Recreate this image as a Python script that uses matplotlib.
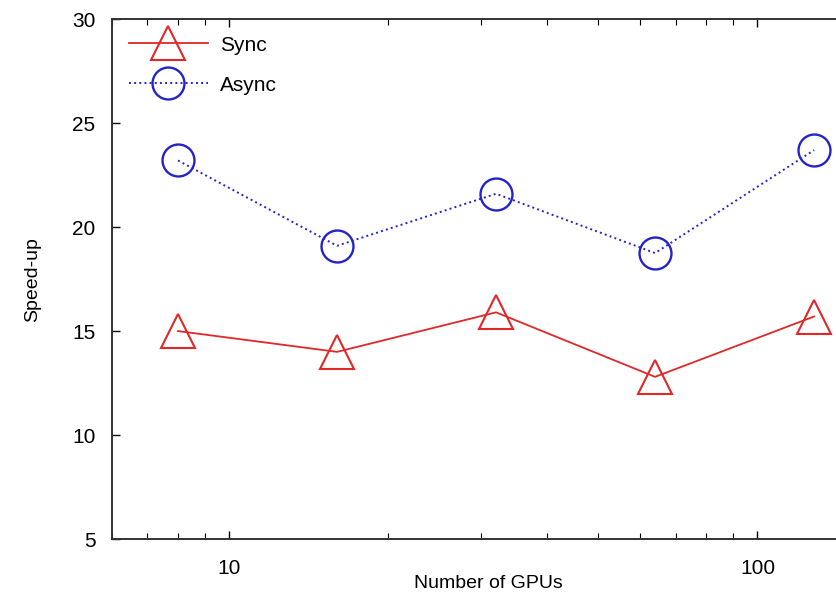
import matplotlib.pyplot as plt
import matplotlib.ticker as ticker

plt.rcParams['font.family'] = ['Liberation Sans', 'DejaVu Sans']

gpus = [8, 16, 32, 64, 128]
sync = [15.0, 14.0, 15.9, 12.8, 15.7]
async_ = [23.2, 19.1, 21.6, 18.75, 23.7]

fig = plt.figure(figsize=(8.36, 6.14), dpi=100)
# axes run past the right edge, as in the cropped original
ax = fig.add_axes([0.134, 0.122, 0.901, 0.847])

ax.plot(gpus, sync, color='#e02828', lw=1.3, marker='^', markersize=24,
        markerfacecolor='none', markeredgewidth=1.5, label='Sync')
ax.plot(gpus, async_, color='#2424c8', lw=1.4, ls=':', marker='o', markersize=23,
        markerfacecolor='none', markeredgewidth=1.7, label='Async')

ax.set_xscale('log')
ax.set_xlim(6, 160)
ax.set_ylim(5, 30)
ax.set_yticks([5, 10, 15, 20, 25, 30])
ax.xaxis.set_major_formatter(ticker.FuncFormatter(lambda v, p: '%d' % v))
ax.xaxis.set_minor_formatter(ticker.NullFormatter())

ax.tick_params(which='both', direction='in', top=True, right=True, labelsize=15)
ax.tick_params(which='major', length=6, width=1)
ax.tick_params(which='minor', length=4, width=0.8)
ax.tick_params(axis='x', pad=14)
ax.tick_params(axis='y', pad=12)
for s in ax.spines.values():
    s.set_linewidth(1.4)
    s.set_color('#333333')

ax.set_xlabel('Number of GPUs', fontsize=14, labelpad=-2)
ax.set_ylabel('Speed-up', fontsize=14, labelpad=22)

ax.legend(loc='upper left', frameon=False, fontsize=15, handlelength=3.8,
          borderaxespad=0.4, labelspacing=1.0, handletextpad=0.6,
          bbox_to_anchor=(0.0, 1.0))

fig.savefig('out.png', dpi=100)
